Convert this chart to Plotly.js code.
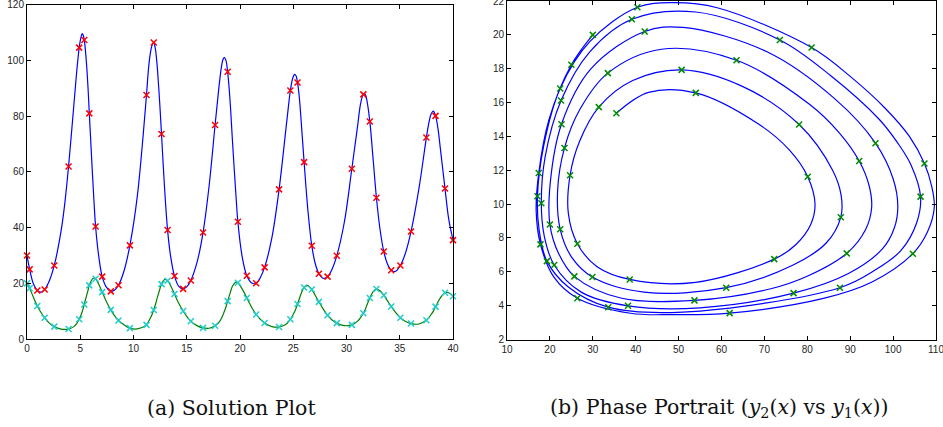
<!DOCTYPE html>
<html>
<head>
<meta charset="utf-8">
<script src="https://cdn.plot.ly/plotly-3.0.1.min.js"></script>
<style>
  html, body { margin: 0; padding: 0; background: #ffffff; }
  #chart { width: 943px; height: 427px; }
</style>
</head>
<body>
<div id="chart"></div>
<script>
// Solver steps (markers): time, y1, y2
const stepT  = [0,0.25,0.97,1.66,2.56,3.9,4.9,5.38,5.85,6.44,7.06,7.87,8.59,9.66,11.22,11.9,12.63,13.2,13.85,14.66,15.38,16.53,17.66,18.84,19.8,20.64,21.52,22.31,23.67,24.73,25.4,26.02,26.74,27.41,28.22,29.09,30.5,31.58,32.19,32.81,33.5,34.2,35.06,36.06,37.5,38.36,39.25,40];
const stepY1 = [30,25.0,17.4,17.8,26.4,61.9,104.6,107.3,81.0,40.4,22.4,17.1,19.3,33.6,87.6,106.4,73.6,39.1,22.6,18.0,21.0,38.2,76.8,95.9,42.1,22.7,20.0,25.7,53.7,89.2,92.1,63.5,33.5,23.4,22.4,29.9,61.1,87.8,78.1,50.7,31.4,24.7,26.4,38.6,72.3,80.1,54.0,35.5];
const stepY2 = [20.0,18.23,11.84,7.62,4.44,3.56,7.07,12.4,19.25,21.63,16.83,10.46,6.63,3.91,5.06,10.44,19.7,20.92,16.12,10.05,6.4,3.99,4.74,13.6,20.2,14.72,8.79,5.73,4.31,7.09,12.55,18.5,17.74,13.32,8.51,5.69,5.06,9.22,14.7,17.93,15.73,11.7,7.66,5.55,6.75,11.62,16.57,15.37];

const extraT  = [0.6,1.3,2.1,3.2,3.55,4.4,4.65,5.05,5.18,5.28,5.48,5.6,5.73,6.15,6.3,6.75,7.45,8.2,9.1,10.35,11.38,11.55,11.75,12.05,12.15,12.25,12.45,12.92,13.5,14.25,15.0,15.95,17.1,18.0,18.25,18.4,18.53,18.68,19.05,19.3,19.63,20.2,21.1,21.9,23.0,24.2,24.45,24.95,25.13,25.27,25.55,25.7,26.38,27.07,27.8,28.65,29.8,31.05,31.32,31.75,31.9,32.5,33.15,33.85,34.62,35.55,36.8,37.72,37.95,38.16,38.58,38.8,39.6];
const extraY1 = [19.8,16.8,20.9,38.8,48.7,84.0,95.2,108.0,109.6,109.0,103.8,98.2,90.2,59.0,48.7,29.3,18.6,17.5,24.3,51.0,95.8,101.8,105.5,104.2,101.1,96.8,85.4,54.0,29.3,18.9,18.7,27.3,55.0,89.6,97.5,100.3,101.1,100.0,86.5,70.6,51.0,29.6,20.1,22.0,36.5,71.5,80.1,93.6,95.0,94.4,87.5,80.5,46.0,27.0,21.8,25.1,42.0,76.7,84.4,87.9,85.9,64.5,39.3,26.9,24.3,31.0,54.0,77.3,80.8,81.8,75.8,68.8,43.0];
const extraY2 = [15.0,9.6,5.7,3.55,3.47,4.44,5.41,8.35,9.8,11.05,14.0,15.65,17.5,21.6,21.9,19.6,13.5,8.45,5.1,3.62,6.1,7.25,8.9,12.3,13.6,15.0,17.6,21.35,19.0,12.8,8.1,4.8,3.87,5.9,7.35,8.6,9.9,11.5,16.2,19.0,20.44,18.0,11.3,7.1,4.45,5.0,5.75,8.5,9.8,11.1,14.2,15.9,19.15,15.6,10.8,6.85,4.8,6.4,7.7,10.5,12.0,17.0,17.3,13.7,9.45,6.3,5.38,7.6,8.8,10.0,13.2,14.7,16.6];

const leftXTicks  = [0,5,10,15,20,25,30,35,40];
const leftYTicks  = [0,20,40,60,80,100,120];
const rightXTicks = [10,20,30,40,50,60,70,80,90,100,110];
const rightYTicks = [2,4,6,8,10,12,14,16,18,20,22];

const captionA = "(a) Solution Plot";
const captionB = "(b) Phase Portrait (<i>y</i><sub>2</sub>(<i>x</i>) vs <i>y</i><sub>1</sub>(<i>x</i>))";

// merge steps and extra points into one curve, ordered by time
const pts = [];
stepT.forEach((t, i) => pts.push([t, stepY1[i], stepY2[i]]));
extraT.forEach((t, i) => pts.push([t, extraY1[i], extraY2[i]]));
pts.sort((a, b) => a[0] - b[0]);
const curveT = pts.map(p => p[0]);
const curveY1 = pts.map(p => p[1]);
const curveY2 = pts.map(p => p[2]);

const tickFont = {family: "Liberation Sans, Arial, sans-serif", size: 10, color: "#262626"};

const traces = [
  {x: curveT, y: curveY1, mode: "lines", line: {color: "#0000ff", width: 1.2, shape: "spline"}, xaxis: "x", yaxis: "y", hoverinfo: "skip"},
  {x: curveT, y: curveY2, mode: "lines", line: {color: "#008000", width: 1.2, shape: "spline"}, xaxis: "x", yaxis: "y", hoverinfo: "skip"},
  {x: stepT, y: stepY1, mode: "markers", cliponaxis: false, marker: {symbol: "x-thin", size: 6, color: "#ff0000", line: {color: "#ff0000", width: 1.5}}, xaxis: "x", yaxis: "y"},
  {x: stepT, y: stepY2, mode: "markers", cliponaxis: false, marker: {symbol: "x-thin", size: 6, color: "#22cccc", line: {color: "#22cccc", width: 1.5}}, xaxis: "x", yaxis: "y"},
  {x: curveY1, y: curveY2, mode: "lines", line: {color: "#0000ff", width: 1.2, shape: "spline"}, xaxis: "x2", yaxis: "y2", hoverinfo: "skip"},
  {x: stepY1, y: stepY2, mode: "markers", cliponaxis: false, marker: {symbol: "x-thin", size: 6, color: "#008a00", line: {color: "#008a00", width: 1.5}}, xaxis: "x2", yaxis: "y2"}
];

function axis(domain, range, ticks, anchor) {
  return {
    domain: domain, range: range, tickmode: "array", tickvals: ticks, ticktext: ticks.map(String),
    anchor: anchor, showline: true, linecolor: "#000", linewidth: 1, mirror: "ticks",
    ticks: "inside", ticklen: 4, tickcolor: "#000", tickwidth: 1, ticklabeloverflow: "allow",
    showgrid: false, zeroline: false, tickfont: tickFont, fixedrange: true
  };
}

const H = 427, W = 943;
const layout = {
  width: W, height: H,
  margin: {l: 0, r: 0, t: 0, b: 0},
  paper_bgcolor: "#ffffff", plot_bgcolor: "#ffffff",
  showlegend: false,
  xaxis:  axis([27/W, 453/W], [0, 40], leftXTicks, "y"),
  yaxis:  axis([(H-339)/H, (H-4.7)/H], [0, 120], leftYTicks, "x"),
  xaxis2: axis([507/W, 936/W], [10, 110], rightXTicks, "y2"),
  yaxis2: axis([(H-339.5)/H, (H-1)/H], [2, 22], rightYTicks, "x2"),
  annotations: [
    {text: captionA, xref: "paper", yref: "paper", x: 231/W, y: (H-408)/H, xanchor: "center", yanchor: "middle", showarrow: false,
     font: {family: "DejaVu Serif, Liberation Serif, serif", size: 20.5, color: "#111"}},
    {text: captionB, xref: "paper", yref: "paper", x: 719/W, y: (H-408)/H, xanchor: "center", yanchor: "middle", showarrow: false,
     font: {family: "DejaVu Serif, Liberation Serif, serif", size: 20.5, color: "#111"}}
  ]
};

Plotly.newPlot("chart", traces, layout, {displayModeBar: false, staticPlot: true});
</script>
</body>
</html>
